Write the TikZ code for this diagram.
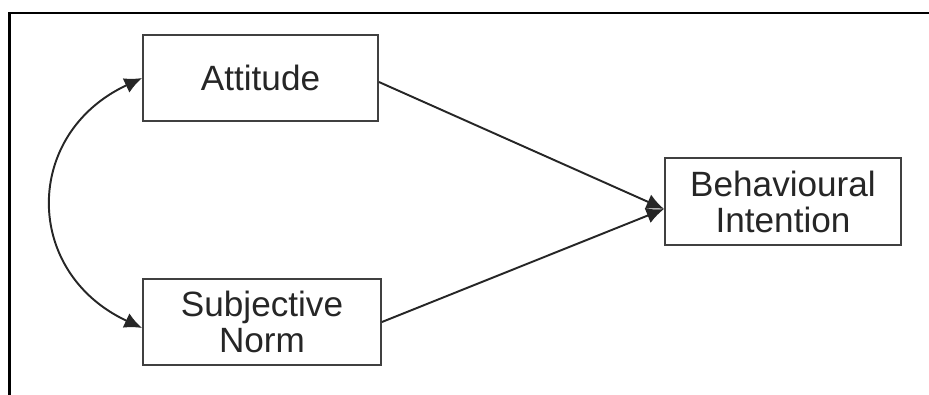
\documentclass[tikz,border=0pt]{standalone}
\usepackage{fontspec}
\setmainfont{Liberation Sans}
\usetikzlibrary{arrows.meta}

\begin{document}
\begin{tikzpicture}[x=0.02cm, y=-0.02cm,
  var/.style={draw=black!75, line width=1.1pt, minimum height=1.73cm, text=black!85,
    align=center, font=\fontsize{20}{20.5}\selectfont, inner sep=0pt},
  conn/.style={draw=black!85, line width=1.1pt},
  tip/.style={-{Latex[length=10pt,width=9pt]}}]
  \useasboundingbox (0,0) rectangle (929,395);
  \draw[line width=1.2pt] (9.5,395) |- (929,13);
  \node[var, minimum width=4.7cm] (att) at (260.5,78) {Attitude};
  \node[var, minimum width=4.76cm] (sn) at (262,322) {Subjective\\Norm};
  \node[var, minimum width=4.72cm] (bi) at (783,201.5) {Behavioural\\Intention};
  \draw[conn, tip] ([yshift=-0.08cm]att.east) -- ([yshift=-0.15cm]bi.west);
  \draw[conn, tip] (sn.east) -- ([yshift=-0.15cm]bi.west);
  \draw[conn, {Latex[length=10pt,width=9pt]}-{Latex[length=10pt,width=9pt]}]
    (att.west) to[out=205, in=155, looseness=1.35] ([yshift=-0.12cm]sn.west);
\end{tikzpicture}
\end{document}
